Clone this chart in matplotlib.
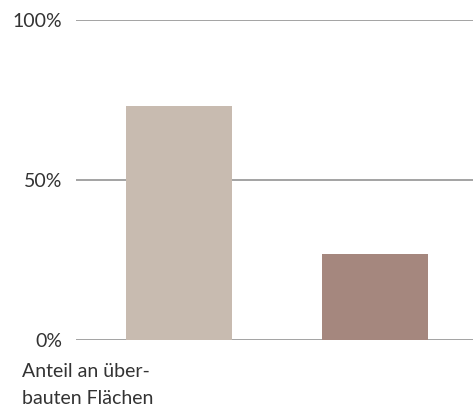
import matplotlib.pyplot as plt

# Shares of built-over area
categories = ["Anteil an über-\nbauten Flächen", ""]
values = [73, 27]
colors = ["#c8bbb0", "#a5877e"]
tick_values = [0, 50, 100]
tick_labels = ["0%", "50%", "100%"]

plt.rcParams['font.family'] = ['Lato', 'DejaVu Sans']

fig = plt.figure(figsize=(4.73, 4.08), dpi=100)
ax = fig.add_axes([76/473, 68/408, 397/473, 320/408])

ax.bar(range(len(values)), values, width=0.54, color=colors, zorder=3)

ax.set_xlim(-0.525, 1.5)
ax.set_ylim(0, 100)

# horizontal guide lines
ax.set_yticks(tick_values)
ax.set_yticklabels(tick_labels, fontsize=14, color="#333333")
ax.yaxis.grid(True, color="#8a8a8a", linewidth=1.1, zorder=1)
ax.tick_params(axis='y', length=0, pad=10)
ax.set_xticks([])

for s in ax.spines.values():
    s.set_visible(False)

# category label under the first bar
fig.text(22/473, (408-363)/408, categories[0], fontsize=14, color="#333333",
         ha='left', va='top', linespacing=1.75)

fig.savefig("out.png", dpi=100)
